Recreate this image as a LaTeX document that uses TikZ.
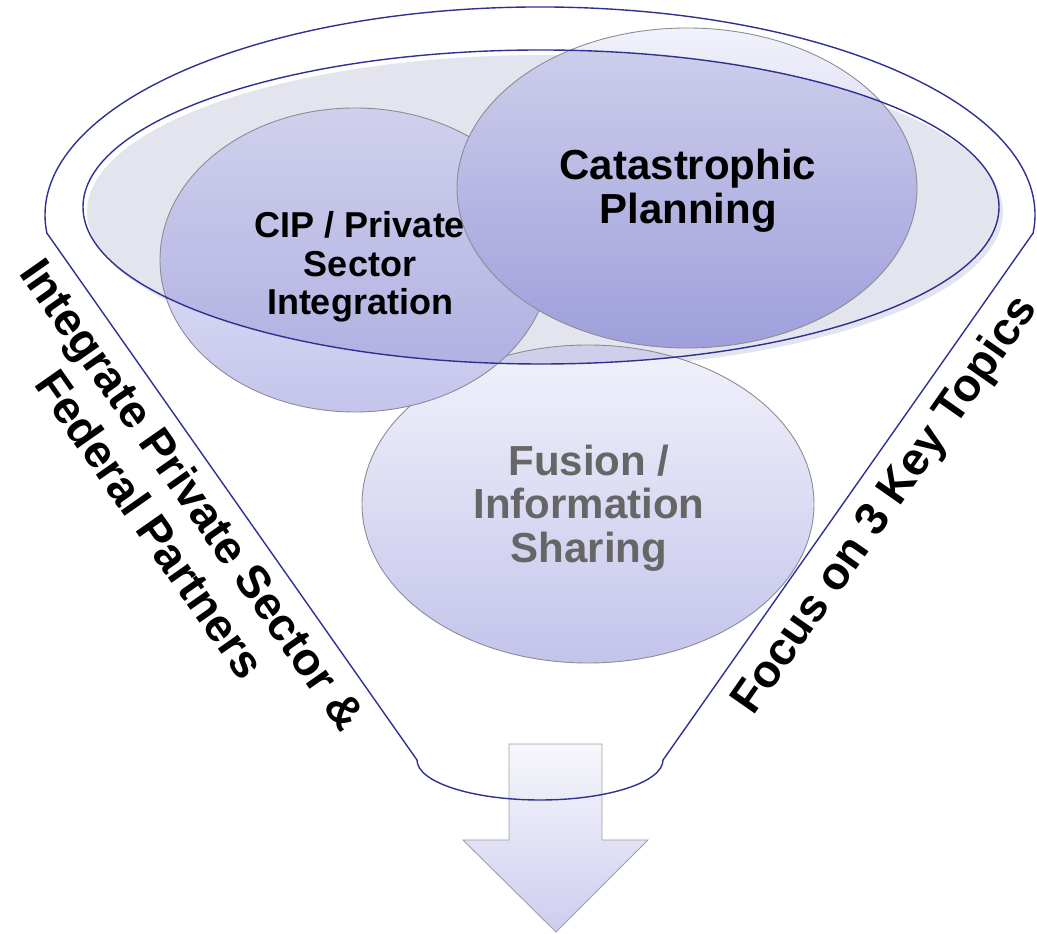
\documentclass[tikz,border=0pt]{standalone}
\usepackage{fontspec}
\setmainfont{Liberation Sans}
\usetikzlibrary{shapes.geometric}
\definecolor{funnelblue}{RGB}{46,49,146}
\definecolor{rimgray}{RGB}{227,228,238}
\definecolor{edgegray}{RGB}{140,140,150}
\definecolor{tintblue}{RGB}{75,75,180}
\definecolor{fusiontext}{RGB}{102,102,102}
\definecolor{circtop}{RGB}{242,242,251}
\definecolor{circbot}{RGB}{196,196,236}
\definecolor{arrtop}{RGB}{247,247,252}
\definecolor{arrbot}{RGB}{205,205,240}
\tikzset{
  circfill/.style={top color=circtop, bottom color=circbot},
  circedge/.style={draw=edgegray, line width=0.9pt},
  tintfill/.style={fill=tintblue, fill opacity=0.2},
  funnelline/.style={draw=funnelblue, line width=1.4pt},
  bigtext/.style={align=center, font=\bfseries\fontsize{46}{52}\selectfont, inner sep=0pt},
}
\begin{document}
\begin{tikzpicture}[x=1pt,y=1pt]
\useasboundingbox (0,0) rectangle (1037,934);
% rim fill
\fill[rimgray] (545,722) ellipse [x radius=458, y radius=157];
% down arrow
\path[top color=arrtop, bottom color=arrbot, draw=gray!75, line width=0.9pt]
  (509,190) -- (602,190) -- (602,94) -- (648,94) -- (556,2) -- (463,94) -- (509,94) -- cycle;
% Fusion circle
\path[circfill] (588,430) ellipse [x radius=226, y radius=159];
\begin{scope}
  \clip (541,727) ellipse [x radius=458, y radius=157];
  \path[tintfill] (588,430) ellipse [x radius=226, y radius=159];
\end{scope}
\path[circedge] (588,430) ellipse [x radius=226, y radius=159];
% CIP circle
\path[circfill] (355,674) ellipse [x radius=195, y radius=152];
\begin{scope}
  \clip (541,727) ellipse [x radius=458, y radius=157];
  \path[tintfill] (355,674) ellipse [x radius=195, y radius=152];
\end{scope}
\path[circedge] (355,674) ellipse [x radius=195, y radius=152];
% Catastrophic circle
\path[top color=circtop, bottom color={rgb,255:red,180;green,180;blue,230}] (687,746) ellipse [x radius=230, y radius=160];
\begin{scope}
  \clip (541,727) ellipse [x radius=458, y radius=157];
  \path[tintfill] (687,746) ellipse [x radius=230, y radius=160];
\end{scope}
\path[circedge] (687,746) ellipse [x radius=230, y radius=160];
% inner rim outline
\path[funnelline] (541,727) ellipse [x radius=458, y radius=157];
% funnel outline
\path[funnelline] (46.9,700.9) -- (417,174)
  arc [start angle=180, end angle=360, x radius=123, y radius=40]
  -- (1033.1,700.9)
  arc [start angle=-5, end angle=185, x radius=495, y radius=208] -- cycle;
% texts
\node (cattext) at (688,743) [align=center, inner sep=0pt, font=\bfseries\fontsize{42}{44}\selectfont] {Catastrophic\\Planning};
\node (ciptext) at (360,667) [align=center, inner sep=0pt, font=\bfseries\fontsize{36}{38.5}\selectfont] {CIP / Private\\Sector\\Integration};
\node (fusiontext) at (589,426) [align=center, inner sep=0pt, text=fusiontext, font=\bfseries\fontsize{42}{43.5}\selectfont] {Fusion /\\Information\\Sharing};
\node (lefttext) at (172,425) [bigtext, rotate=-55] {Integrate Private Sector \&\\Federal Partners};
\node (righttext) at (886,428) [bigtext, rotate=55] {Focus on 3 Key Topics};
\end{tikzpicture}
\end{document}
